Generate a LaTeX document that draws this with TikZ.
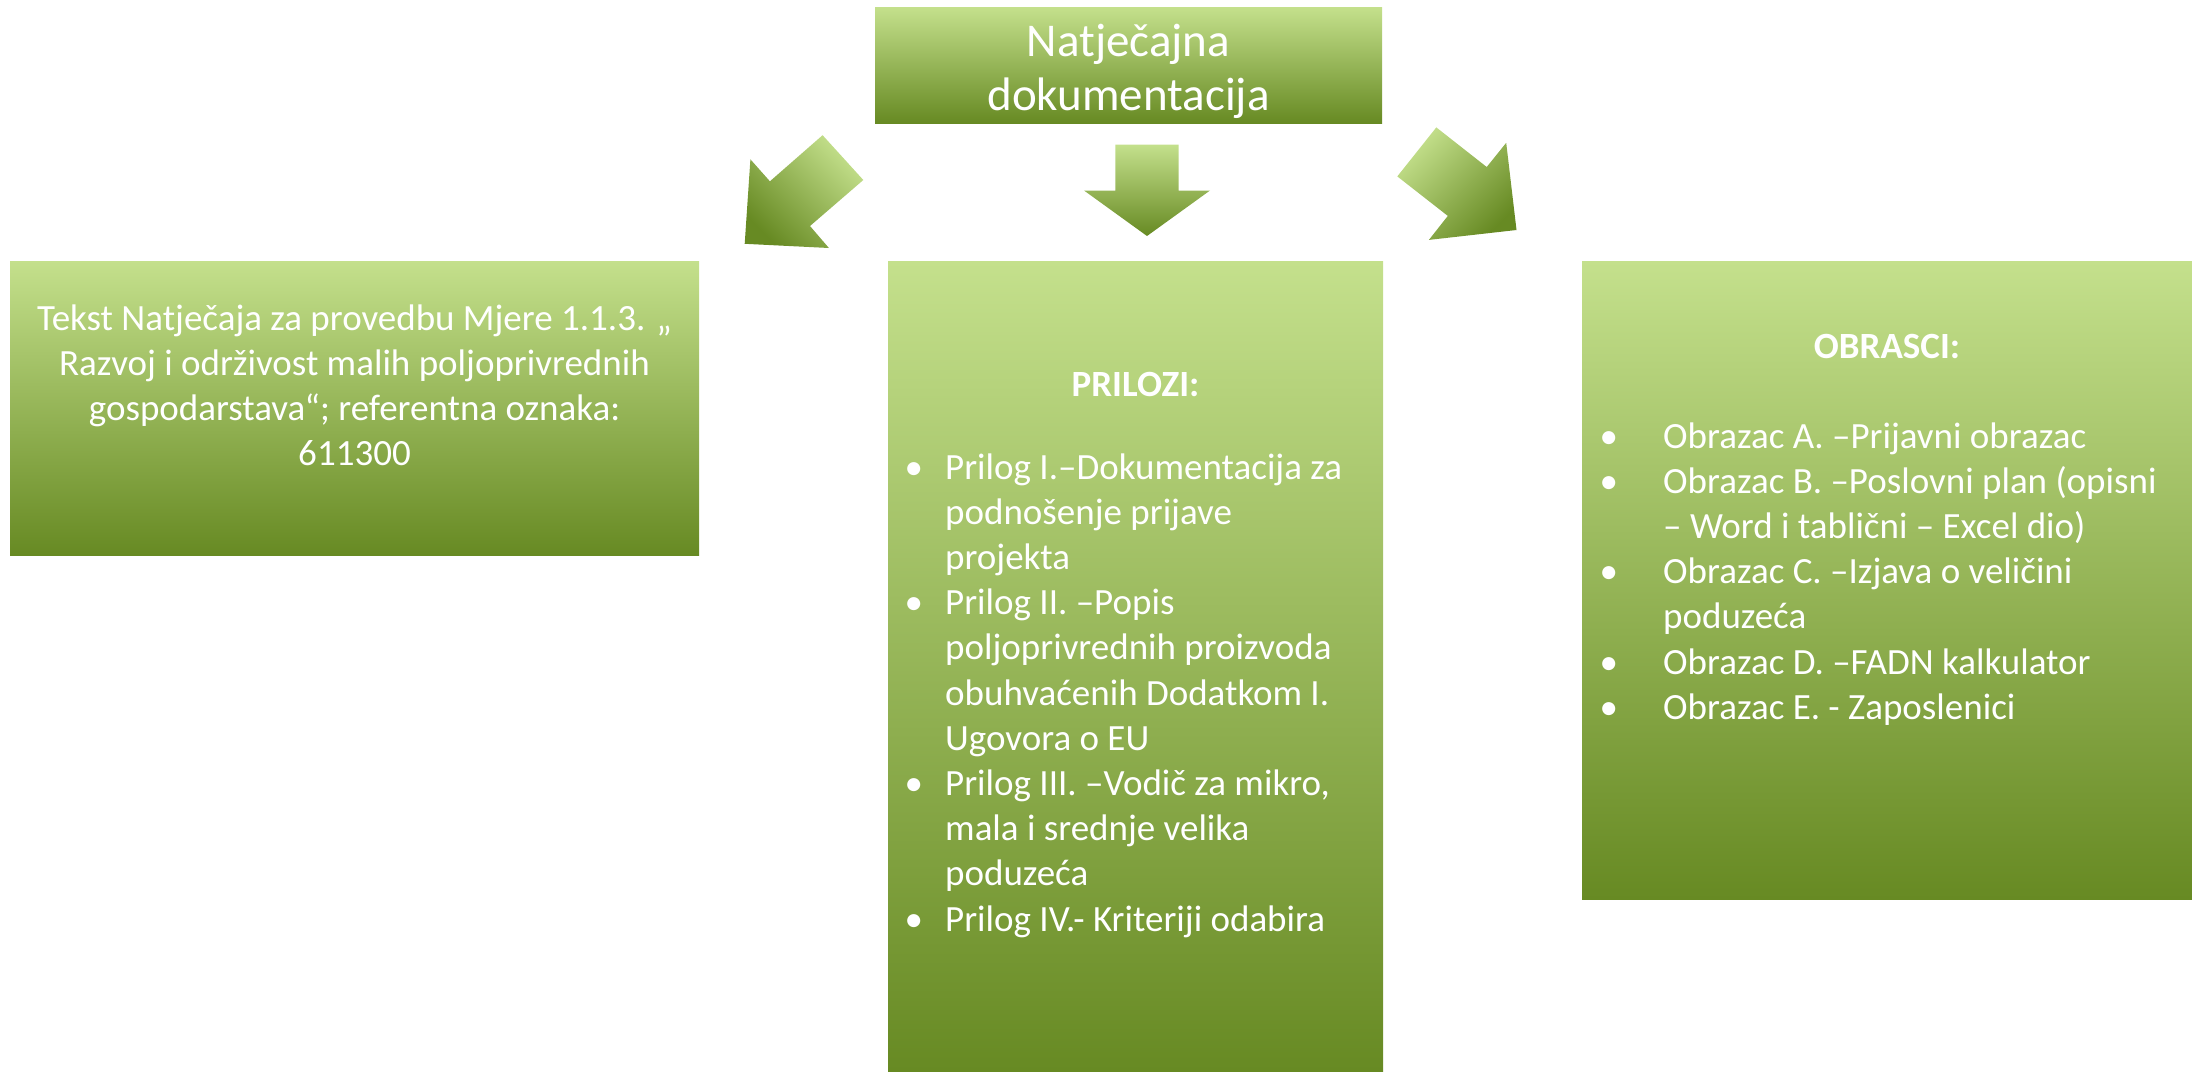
\documentclass[tikz,border=0pt]{standalone}
\usepackage{fontspec}
\setmainfont{Carlito}
\definecolor{gtop}{RGB}{196,224,140}
\definecolor{gmid}{RGB}{156,203,58}
\definecolor{gbot}{RGB}{103,138,35}
\tikzset{
  greenbox/.style={rectangle, anchor=north west, inner sep=0, outer sep=0,
    top color=gtop, middle color=gmid, bottom color=gbot},
  boxtext/.style={inner sep=0, text=white, font=\fontsize{37}{45.2}\selectfont},
  greenarrow/.style={top color=gtop, middle color=gmid, bottom color=gbot}
}
\newcommand{\bul}[1]{\makebox[#1][l]{•}}

\begin{document}
\begin{tikzpicture}[x=1pt, y=-1pt]
		%%%%% START %%%%%
		\useasboundingbox (0,0) rectangle (2192,1071);
		
		% boxes
		\node[greenbox, minimum width=507pt, minimum height=116pt] (naslov) at (875,7) {};
		\node[greenbox, minimum width=689pt, minimum height=294pt] (tekst) at (10,261) {};
		\node[greenbox, minimum width=495pt, minimum height=810pt] (prilozi) at (888,261) {};
		\node[greenbox, minimum width=610pt, minimum height=638pt] (obrasci) at (1582,261) {};
		
		% arrows
		\shade[greenarrow, shading angle=-45] (750.4,159.3) -- (769.9,181.3) -- (822.6,135.2) -- (863.3,180)
			-- (810,226) -- (828.9,248) -- (744.7,243.8) -- cycle;
		\shade[greenarrow] (1115.4,144.5) -- (1178.5,144.5) -- (1178.5,190.5) -- (1210,190.5)
			-- (1147,236) -- (1084,190.5) -- (1115.4,190.5) -- cycle;
		\shade[greenarrow, shading angle=45] (1436.3,127.4) -- (1486.7,167) -- (1506.2,142.8) -- (1516.5,230)
			-- (1428.9,239.9) -- (1447.8,215.9) -- (1397.3,176.4) -- cycle;
		
		% texts
		\node[boxtext, anchor=base, font=\fontsize{47}{54}\selectfont] (naslovtxt) at (1128.5,56)
			{\parbox[t]{480pt}{\centering Natječajna\\dokumentacija}};
		
		\node[boxtext, anchor=base] (teksttxt) at (354.5,330)
			{\parbox[t]{680pt}{\centering Tekst Natječaja za provedbu Mjere 1.1.3. „\\
			Razvoj i održivost malih poljoprivrednih\\
			gospodarstava“; referentna oznaka:\\
			611300}};
		
		\node[boxtext, anchor=base, font=\fontsize{37}{45.2}\selectfont\bfseries] (priloginasl) at (1135.5,396) {PRILOZI:};
		\node[boxtext, anchor=base west] (priloglist) at (904.5,479)
			{\parbox[t]{470pt}{\raggedright
			\bul{40.5pt}Prilog I.–Dokumentacija za\\
			\hspace*{40.5pt}podnošenje prijave\\
			\hspace*{40.5pt}projekta\\
			\bul{40.5pt}Prilog II. –Popis\\
			\hspace*{40.5pt}poljoprivrednih proizvoda\\
			\hspace*{40.5pt}obuhvaćenih Dodatkom I.\\
			\hspace*{40.5pt}Ugovora o EU\\
			\bul{40.5pt}Prilog III. –Vodič za mikro,\\
			\hspace*{40.5pt}mala i srednje velika\\
			\hspace*{40.5pt}poduzeća\\
			\bul{40.5pt}Prilog IV.- Kriteriji odabira}};
		
		\node[boxtext, anchor=base, font=\fontsize{37}{45.2}\selectfont\bfseries] (obrascinasl) at (1887,358) {OBRASCI:};
		\node[boxtext, anchor=base west] (obrazaclist) at (1599.5,448)
			{\parbox[t]{590pt}{\raggedright
			\bul{63.5pt}Obrazac A. –Prijavni obrazac\\
			\bul{63.5pt}Obrazac B. –Poslovni plan (opisni\\
			\hspace*{63.5pt}– Word i tablični – Excel dio)\\
			\bul{63.5pt}Obrazac C. –Izjava o veličini\\
			\hspace*{63.5pt}poduzeća\\
			\bul{63.5pt}Obrazac D. –FADN kalkulator\\
			\bul{63.5pt}Obrazac E. - Zaposlenici}};
		
		%%%%% END %%%%%
\end{tikzpicture}
\end{document}
